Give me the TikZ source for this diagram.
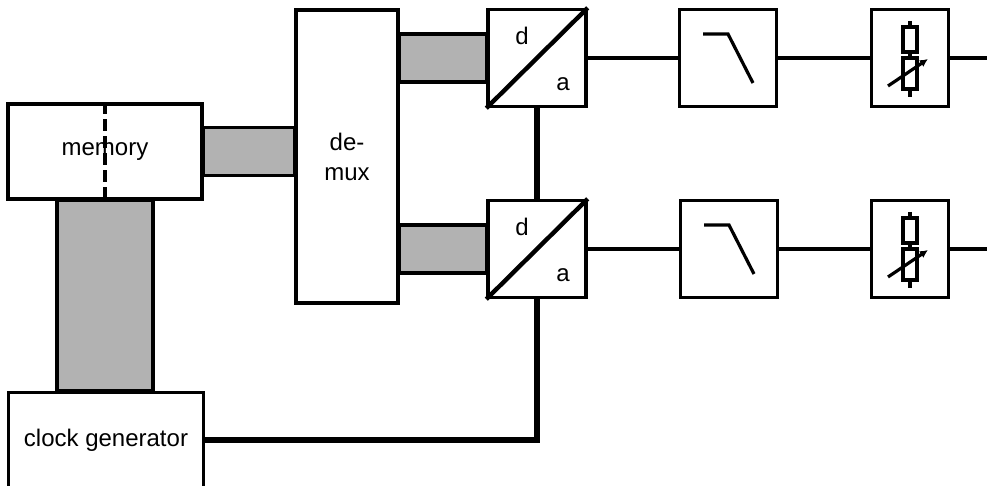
\documentclass[tikz,border=0pt]{standalone}
\usepackage{fontspec}
\setmainfont{Liberation Sans}
\usetikzlibrary{arrows.meta,calc}

\begin{document}
\begin{tikzpicture}[x=0.5pt, y=-0.5pt,
    box/.style={draw, line width=1.7pt, fill=white, inner sep=0pt, align=center, font=\fontsize{12}{15}\selectfont},
    lbl/.style={inner sep=0pt, font=\fontsize{12}{14}\selectfont},
    bus/.style={draw, line width=1.7pt, fill=black!30},
    sig/.style={line width=1.6pt},
    clkline/.style={line width=2.7pt}
]
\useasboundingbox (0,0) rectangle (987,486);
\clip (0,0) rectangle (987,486);

\node[box, minimum width=97pt, minimum height=47.5pt] (mem) at (105,151.5) {memory};
\node[box, minimum width=51pt, minimum height=146.5pt] (demux) at (347,156.5) {de-\\mux};
\node[box, minimum width=49pt, minimum height=48.5pt] (da1) at (537,58) {};
\node[box, minimum width=49pt, minimum height=48.5pt] (da2) at (537,249) {};
\node[box, minimum width=48.5pt, minimum height=48.5pt] (lp1) at (728,58) {};
\node[box, minimum width=48.5pt, minimum height=48.5pt] (lp2) at (729,249) {};
\node[box, minimum width=38.5pt, minimum height=48.5pt] (att1) at (910,58) {};
\node[box, minimum width=38.5pt, minimum height=48.5pt] (att2) at (910,249) {};
\node[box, minimum width=97.5pt, minimum height=47.5pt] (clk) at (106,440) {clock generator};
\coordinate (out1) at (987,58);
\coordinate (out2) at (987,249);

% buses
\draw[bus] ($(mem.east)+(0,-24)$) rectangle ($(demux.west |- mem.east)+(0,24)$);
\draw[bus] ($(demux.east |- da1.west)+(0,-24)$) rectangle ($(da1.west)+(0,24)$);
\draw[bus] ($(demux.east |- da2.west)+(0,-24)$) rectangle ($(da2.west)+(0,24)$);
\draw[bus] ($(mem.south)+(-48,0)$) rectangle ($(clk.north -| mem.south)+(48,0)$);
\draw[sig, dash pattern=on 6pt off 2.5pt] (mem.north) -- (mem.south);

% signal path
\draw[sig] (da1) -- (lp1);
\draw[sig] (lp1) -- (att1);
\draw[sig] (att1) -- (out1);
\draw[sig] (da2) -- (lp2);
\draw[sig] (lp2) -- (att2);
\draw[sig] (att2) -- (out2);

% clock
\draw[clkline] (da1.south) -- (da2.north);
\draw[clkline] (clk.east) -| (da2.south);

% symbols
\foreach \n in {da1,da2} {
  \draw[line width=2.2pt] (\n.south west) -- (\n.north east);
  \node[lbl] at ($(\n)+(-15,-22)$) {d};
  \node[lbl] at ($(\n)+(26,26)$) {a};
}
\foreach \n in {lp1,lp2}
  \draw[sig] ($(\n)+(-25,-24)$) -- ++(25,0) -- ++(25,49);
\foreach \n in {att1,att2} {
  \draw[sig] ($(\n)+(0,-37)$) -- ($(\n)+(0,39)$);
  \draw[sig, fill=white] ($(\n)+(-7,-31)$) rectangle ($(\n)+(7,-6)$);
  \draw[sig, fill=white] ($(\n)+(-7,0)$) rectangle ($(\n)+(7,31)$);
  \draw[sig, -{Latex[length=4pt,width=4pt]}] ($(\n)+(-22,28)$) -- ($(\n)+(18,1)$);
}
\end{tikzpicture}
\end{document}
